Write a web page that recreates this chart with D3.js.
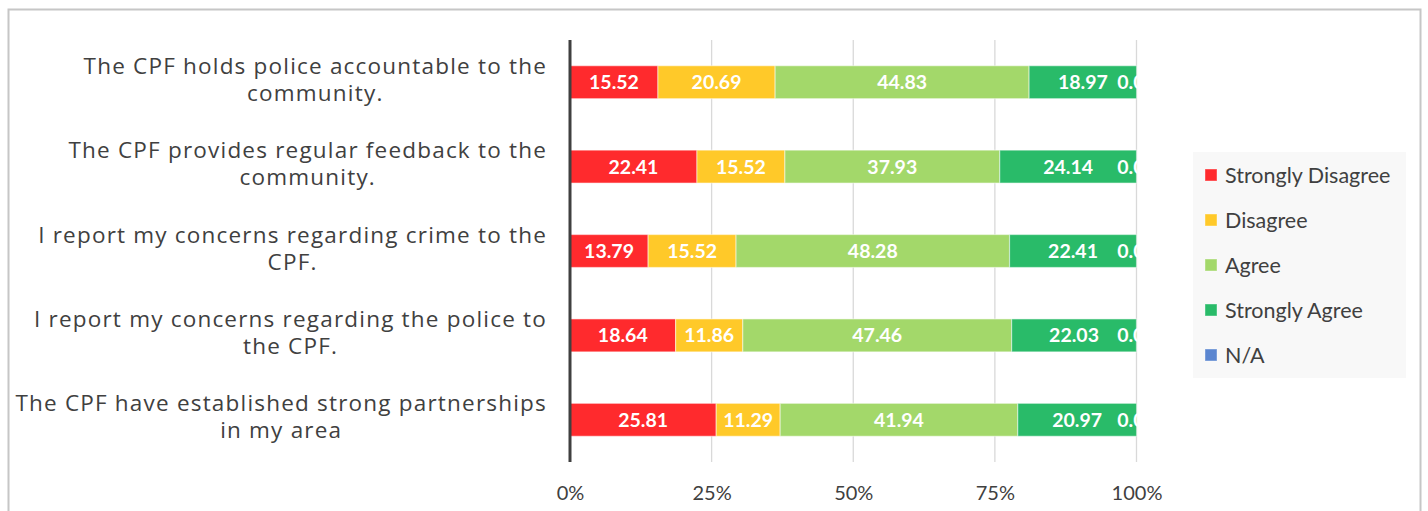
<!DOCTYPE html>
<html>
<head>
<meta charset="utf-8">
<script src="https://cdn.jsdelivr.net/npm/d3@7/dist/d3.min.js"></script>
<style>
  html, body { margin: 0; padding: 0; background: #ffffff; }
  svg { display: block; }
</style>
</head>
<body>
<svg id="chart" width="1428" height="511"></svg>
<script>
// Survey statements (top to bottom) and the share of answers per response, in percent
const statements = [
  ["The CPF holds police accountable to the", "community."],
  ["The CPF provides regular feedback to the", "community."],
  ["I report my concerns regarding crime to the", "CPF."],
  ["I report my concerns regarding the police to", "the CPF."],
  ["The CPF have established strong partnerships", "in my area"]
];
const responses = ["Strongly Disagree", "Disagree", "Agree", "Strongly Agree", "N/A"];
const stronglyDisagree = [15.52, 22.41, 13.79, 18.64, 25.81];
const disagree         = [20.69, 15.52, 15.52, 11.86, 11.29];
const agree            = [44.83, 37.93, 48.28, 47.46, 41.94];
const stronglyAgree    = [18.97, 24.14, 22.41, 22.03, 20.97];
const notApplicable    = [0.00, 0.00, 0.00, 0.00, 0.00];
const tickValues = [0, 25, 50, 75, 100];
const responseColors = ["#ff2a2d", "#ffc929", "#a3d86a", "#29bb69", "#5b86d0"];

const seriesValues = [stronglyDisagree, disagree, agree, stronglyAgree, notApplicable];
const rows = statements.map((s, i) => {
  const row = { key: i };
  responses.forEach((r, j) => { row[r] = seriesValues[j][i]; });
  return row;
});

const svg = d3.select("#chart");
const plot = { left: 570, right: 1136.5, top: 40, bottom: 462 };

// outer chart frame (bottom edge runs past the page)
svg.append("rect")
  .attr("x", 8.5).attr("y", 9.5)
  .attr("width", 1412).attr("height", 560)
  .attr("fill", "#ffffff").attr("stroke", "#c6c6c6").attr("stroke-width", 2);

const x = d3.scaleLinear().domain([0, 100]).range([plot.left, plot.right]);
const y = d3.scaleBand().domain(d3.range(statements.length))
  .range([plot.top, plot.bottom]).paddingInner(0.61).paddingOuter(0.305);
const color = d3.scaleOrdinal().domain(responses).range(responseColors);

// vertical gridlines
svg.append("g").selectAll("line")
  .data(tickValues.filter(t => t > 0))
  .join("line")
  .attr("x1", d => x(d)).attr("x2", d => x(d))
  .attr("y1", plot.top).attr("y2", plot.bottom)
  .attr("stroke", "#d9d9d9").attr("stroke-width", 1.3);

// tick labels along the bottom
const xAxis = d3.axisBottom(x).tickValues(tickValues).tickFormat(d => d + "%").tickSize(0).tickPadding(0);
const axisG = svg.append("g").attr("transform", `translate(0, 500)`).call(xAxis);
axisG.select(".domain").remove();
axisG.selectAll("text")
  .attr("y", 0).attr("dy", 0)
  .attr("font-family", "Lato, 'Open Sans', sans-serif")
  .attr("font-size", 20).attr("fill", "#404040");

// stacked bars
const stacked = d3.stack().keys(responses)(rows);
const layers = svg.append("g").selectAll("g")
  .data(stacked).join("g")
  .attr("fill", d => color(d.key));
layers.selectAll("rect")
  .data(d => d.map(v => ({ v, key: d.key })))
  .join("rect")
  .attr("x", d => x(d.v[0]))
  .attr("y", d => y(d.v.data.key))
  .attr("width", d => Math.max(0, x(d.v[1]) - x(d.v[0])))
  .attr("height", y.bandwidth())
  .attr("stroke", "#ffffff").attr("stroke-opacity", 0.45).attr("stroke-width", 1.2);

// value labels, clipped to the plot area
svg.append("clipPath").attr("id", "plotClip")
  .append("rect").attr("x", plot.left).attr("y", plot.top)
  .attr("width", plot.right - plot.left + 1).attr("height", plot.bottom - plot.top);
const labelG = svg.append("g").attr("clip-path", "url(#plotClip)");
stacked.forEach(layer => {
  labelG.append("g").selectAll("text")
    .data(layer)
    .join("text")
    .attr("x", d => x((d[0] + d[1]) / 2))
    .attr("y", d => y(d.data.key) + y.bandwidth() / 2)
    .attr("dy", "0.36em")
    .attr("text-anchor", "middle")
    .attr("font-family", "Lato, 'Open Sans', sans-serif")
    .attr("font-weight", "bold")
    .attr("font-size", 19.5)
    .attr("fill", "#ffffff")
    .text(d => (d[1] - d[0]).toFixed(2));
});

// zero axis line
svg.append("line")
  .attr("x1", x(0)).attr("x2", x(0))
  .attr("y1", plot.top).attr("y2", plot.bottom)
  .attr("stroke", "#404040").attr("stroke-width", 3);

// category labels: one wrapped text per statement, each block centred
// on its widest line with the right edge at x = 547
const catG = svg.append("g");
statements.forEach((lines, i) => {
  const cy = y(i) + y.bandwidth() / 2 - 3;
  const t = catG.append("text")
    .attr("font-family", "'Open Sans', 'Noto Sans', sans-serif")
    .attr("font-size", 22.5)
    .attr("letter-spacing", 1.2)
    .attr("fill", "#404040")
    .attr("text-anchor", "middle");
  const spans = t.selectAll("tspan").data(lines).join("tspan")
    .attr("y", (d, k) => cy + (k - (lines.length - 1) / 2) * 27)
    .attr("dy", "0.36em")
    .text(d => d);
  const maxW = d3.max(spans.nodes(), n => n.getComputedTextLength());
  spans.attr("x", 547 - maxW / 2);
});

// legend
const legend = svg.append("g");
legend.append("rect")
  .attr("x", 1193).attr("y", 152).attr("width", 213).attr("height", 226)
  .attr("fill", "#f8f8f8");
const item = legend.selectAll("g.item").data(responses).join("g")
  .attr("class", "item")
  .attr("transform", (d, i) => `translate(1205, ${175 + i * 45})`);
item.append("rect")
  .attr("x", 0).attr("y", -6).attr("width", 12).attr("height", 12)
  .attr("fill", d => color(d))
  .attr("stroke", "#ffffff").attr("stroke-opacity", 0.4).attr("stroke-width", 1);
item.append("text")
  .attr("x", 20).attr("dy", "0.36em")
  .attr("font-family", "Lato, 'Open Sans', sans-serif")
  .attr("font-size", 21.5).attr("fill", "#404040")
  .text(d => d);
</script>
</body>
</html>
